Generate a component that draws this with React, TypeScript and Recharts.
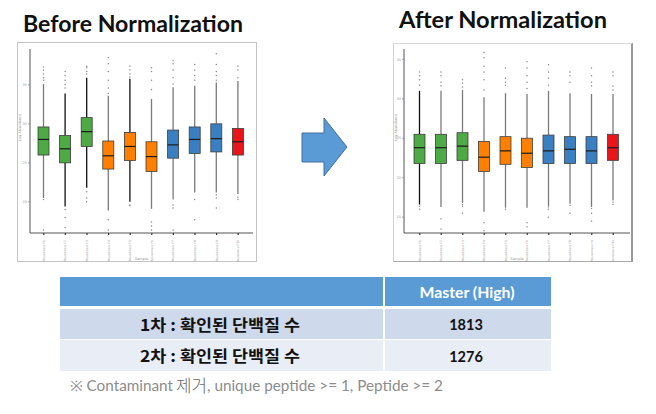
import React from 'react';
import { ComposedChart, Bar, XAxis, YAxis } from 'recharts';

const sampleLabels = ['Abundance F1', 'Abundance F2', 'Abundance F3', 'Abundance F4', 'Abundance F5', 'Abundance F6', 'Abundance F7', 'Abundance F8', 'Abundance F9', 'Abundance F10'];
const boxColors = ['#4DAA45', '#4DAA45', '#4DAA45', '#FF8000', '#FF8000', '#FF8000', '#3A7FC1', '#3A7FC1', '#3A7FC1', '#E8161B'];

const beforeMax = [35.1, 33.9, 35.9, 33.6, 35.8, 33.2, 34.7, 34.9, 35.3, 35.5];
const beforeQ3 = [29.6, 28.5, 30.8, 27.8, 28.9, 27.7, 29.2, 29.6, 30.0, 29.4];
const beforeMedian = [28.0, 26.8, 29.0, 25.9, 27.1, 25.8, 27.3, 28.0, 28.1, 27.7];
const beforeQ1 = [26.0, 25.0, 27.1, 24.2, 25.3, 23.9, 25.6, 26.2, 26.4, 26.0];
const beforeMin = [20.5, 19.4, 21.8, 18.9, 20.0, 19.1, 20.3, 21.2, 21.2, 21.0];
const beforeOutliers = [
  [37.3, 36.9, 36.4, 35.9, 35.6, 20.3, 16.4],
  [36.7, 36.2, 35.6, 35.0, 34.6, 19.0, 18.0, 16.7],
  [37.4, 37.2, 36.7, 36.4, 21.3, 20.5, 20.0],
  [38.5, 37.7, 36.7, 35.6, 34.6, 33.9, 17.7, 16.4],
  [37.4, 36.9, 36.4, 36.0, 19.6, 19.5],
  [37.2, 36.7, 35.6, 34.4, 17.4, 16.9, 16.4],
  [38.1, 37.7, 36.9, 35.9, 35.1, 19.6, 19.2, 16.4],
  [37.6, 36.9, 36.2, 35.6, 20.3, 17.7],
  [39.0, 37.6, 36.7, 36.2, 35.6, 20.9, 20.5, 19.2],
  [37.4, 36.9, 35.9, 20.6, 20.3],
];
const beforeWhisker = ['#7a7a7a', '#111', '#111', '#7a7a7a', '#111', '#7a7a7a', '#7a7a7a', '#7a7a7a', '#7a7a7a', '#7a7a7a'];
const beforeTicks = [20, 25, 30, 35];

const afterMax = [31.0, 31.0, 31.1, 30.2, 30.7, 30.6, 31.0, 30.7, 30.6, 30.6];
const afterQ3 = [25.5, 25.5, 25.7, 24.6, 25.2, 25.0, 25.4, 25.2, 25.2, 25.5];
const afterMedian = [23.8, 23.8, 24.0, 22.6, 23.4, 23.1, 23.4, 23.6, 23.4, 23.8];
const afterQ1 = [21.8, 21.8, 22.2, 20.8, 21.7, 21.3, 21.8, 21.8, 21.8, 22.2];
const afterMin = [16.6, 16.3, 16.8, 15.7, 16.2, 16.2, 16.4, 16.7, 16.3, 17.1];
const afterOutliers = [
  [33.4, 32.9, 32.4, 31.7, 16.4, 16.0],
  [33.4, 32.9, 32.1, 31.6, 14.8, 13.5],
  [32.4, 32.0, 31.5, 16.6, 16.4, 15.5],
  [35.9, 35.2, 34.1, 33.4, 32.4, 31.1, 14.3, 13.3],
  [33.9, 32.6, 32.1, 31.7, 16.0],
  [34.7, 33.9, 32.9, 32.1, 31.3, 14.3, 13.8],
  [34.3, 33.4, 32.6, 31.7, 16.3, 16.0, 15.0],
  [33.4, 32.9, 32.1, 16.5, 15.5],
  [33.9, 32.9, 32.1, 31.6, 16.1, 15.5, 14.5],
  [33.4, 32.9, 31.6, 31.1, 16.9, 16.6],
];
const afterWhisker = ['#111', '#7a7a7a', '#7a7a7a', '#7a7a7a', '#7a7a7a', '#7a7a7a', '#7a7a7a', '#7a7a7a', '#7a7a7a', '#7a7a7a'];
const afterTicks = [15, 20, 25, 30, 35];

const tableHeader = ['', 'Master (High)'];
const tableRows = ['1차 : 확인된 단백질 수', '2차 : 확인된 단백질 수'];
const tableValues = ['1813', '1276'];

function build(min: number[], q1: number[], med: number[], q3: number[], max: number[], outl: number[][], wh: string[]) {
  return sampleLabels.map((name, i) => ({
    name,
    range: [min[i], max[i]],
    min: min[i], q1: q1[i], median: med[i], q3: q3[i], max: max[i],
    outliers: outl[i], color: boxColors[i], whisker: wh[i],
  }));
}

const beforeData = build(beforeMin, beforeQ1, beforeMedian, beforeQ3, beforeMax, beforeOutliers, beforeWhisker);
const afterData = build(afterMin, afterQ1, afterMedian, afterQ3, afterMax, afterOutliers, afterWhisker);

const BoxShape = (props: any) => {
  const { x, y, width, height, payload } = props;
  if (payload == null || width == null) return null;
  const top = Math.min(y, y + height);
  const h = Math.abs(height);
  const { min, max, q1, q3, median, color, whisker, outliers } = payload;
  const py = (v: number) => top + (h * (max - v)) / (max - min);
  const cx = x + width / 2;
  return (
    <g>
      {outliers.map((v: number, k: number) => (
        <circle key={k} cx={cx} cy={py(v)} r={0.75} fill="#8a8a8a" />
      ))}
      <line x1={cx} x2={cx} y1={py(max)} y2={py(q3)} stroke={whisker} strokeWidth={1.3} />
      <line x1={cx} x2={cx} y1={py(q1)} y2={py(min)} stroke={whisker} strokeWidth={1.3} />
      <rect x={x} y={py(q3)} width={width} height={py(q1) - py(q3)} fill={color} stroke="#3d3d3d" strokeWidth={0.8} />
      <line x1={x} x2={x + width} y1={py(median)} y2={py(median)} stroke="#1a1a1a" strokeWidth={1.2} />
    </g>
  );
};

const VTick = (props: any) => {
  const { x, y, payload } = props;
  const ty = y + 3;
  return (
    <text x={x} y={ty} transform={`rotate(-90 ${x} ${ty})`} textAnchor="end" dominantBaseline="central" fontSize={3} fill="#9a9a9a" fontFamily="DejaVu Sans">
      {payload.value}
    </text>
  );
};

function BoxChart(p: { data: any[]; domain: [number, number]; ticks: number[]; width: number; height: number; margin: any; yWidth: number; padding: any }) {
  return (
    <ComposedChart width={p.width} height={p.height} data={p.data} margin={p.margin}>
      <XAxis
        dataKey="name"
        type="category"
        interval={0}
        padding={p.padding}
        axisLine={{ stroke: '#555', strokeWidth: 1 }}
        tickLine={{ stroke: '#333', strokeWidth: 1.2 }}
        tickSize={2}
        tick={<VTick />}
        height={29}
        label={{ value: 'Sample', position: 'insideBottom', offset: 2, fontSize: 3.5, fill: '#999', fontFamily: 'DejaVu Sans' }}
      />
      <YAxis
        type="number"
        domain={p.domain}
        ticks={p.ticks}
        width={p.yWidth}
        axisLine={{ stroke: '#555', strokeWidth: 1 }}
        tickLine={{ stroke: '#777', strokeWidth: 0.6 }}
        tickSize={2}
        tickMargin={1}
        tick={{ fontSize: 3.5, fill: '#9a9a9a', fontFamily: 'DejaVu Sans' }}
        label={{ value: 'Log Abundance', angle: -90, position: 'insideLeft', offset: 3, fontSize: 3.5, fill: '#999', fontFamily: 'DejaVu Sans' }}
      />
      <Bar dataKey="range" barSize={11} isAnimationActive={false} shape={BoxShape} />
    </ComposedChart>
  );
}

export default function App() {
  return (
    <div style={{ position: 'absolute', left: 0, top: 0, width: 656, height: 414, background: '#fff', overflow: 'hidden' }}>
      <svg width={656} height={414} style={{ position: 'absolute', left: 0, top: 0 }}>
        <text x={23} y={32} fontFamily="Lato" fontWeight={700} fontSize={22} fill="#111" textLength={220} lengthAdjust="spacingAndGlyphs">Before Normalization</text>
        <text x={399} y={28} fontFamily="Lato" fontWeight={700} fontSize={22} fill="#111" textLength={208} lengthAdjust="spacingAndGlyphs">After Normalization</text>
        <polygon points="302,133 324,133 324,118 347,147 324,176 324,162 302,162" fill="#5B9BD5" stroke="#41719C" strokeWidth={1} />
        <rect x={60} y={277} width={491} height={29} fill="#5B9BD5" />
        <rect x={60} y={309} width={491} height={30} fill="#CFD9EC" />
        <rect x={60} y={340} width={491} height={31} fill="#E9EEF6" />
        <line x1={384} x2={384} y1={277} y2={371} stroke="#fff" strokeWidth={2} />
        <text x={221} y={298} textAnchor="middle" fontFamily="Lato" fontWeight={700} fontSize={15} fill="#fff">{tableHeader[0]}</text>
        <text x={467} y={298} textAnchor="middle" fontFamily="Lato" fontWeight={700} fontSize={15} fill="#fff" textLength={95} lengthAdjust="spacingAndGlyphs">{tableHeader[1]}</text>
        {tableRows.map((r, i) => (
          <text key={r} x={220} y={331 + i * 31} textAnchor="middle" fontFamily="'Noto Sans CJK KR'" fontWeight={700} fontSize={16} fill="#111" textLength={160} lengthAdjust="spacingAndGlyphs">{r}</text>
        ))}
        {tableValues.map((v, i) => (
          <text key={v} x={466} y={330 + i * 32} textAnchor="middle" fontFamily="Lato" fontWeight={700} fontSize={14.5} fill="#111">{v}</text>
        ))}
        <text x={70} y={391} fontFamily="Lato" fontSize={14.5} fill="#8c8c8c" textLength={103} lengthAdjust="spacingAndGlyphs">※ Contaminant</text>
        <text x={176} y={392} fontFamily="'Noto Sans CJK KR'" fontWeight={300} fontSize={17} fill="#6a6a6a" textLength={31} lengthAdjust="spacingAndGlyphs">제거</text>
        <text x={207} y={391} fontFamily="Lato" fontSize={14.5} fill="#8c8c8c" textLength={236} lengthAdjust="spacingAndGlyphs">, unique peptide &gt;= 1, Peptide &gt;= 2</text>
      </svg>

      <div style={{ position: 'absolute', left: 17, top: 42, width: 240, height: 220, boxSizing: 'border-box', border: '1px solid #c4c4c4', background: '#fff' }} />
      <div style={{ position: 'absolute', left: 17, top: 42, width: 240, height: 220 }}>
        <BoxChart data={beforeData} domain={[16, 39.6]} ticks={beforeTicks} width={240} height={220} margin={{ top: 7, right: 4, bottom: 0, left: 0 }} yWidth={13} padding={{ left: 3, right: 4 }} />
      </div>

      <div style={{ position: 'absolute', left: 393, top: 43, width: 240, height: 219, boxSizing: 'border-box', borderLeft: '1px solid #d0d0d0', borderTop: '1px solid #d8d8d8', borderBottom: '1px solid #a8a8a8', borderRight: '2px solid #999', background: '#fff' }} />
      <div style={{ position: 'absolute', left: 393, top: 43, width: 240, height: 219 }}>
        <BoxChart data={afterData} domain={[13, 36.3]} ticks={afterTicks} width={240} height={219} margin={{ top: 6, right: 3, bottom: 0, left: 0 }} yWidth={11} padding={{ left: 5, right: 6 }} />
      </div>
    </div>
  );
}
